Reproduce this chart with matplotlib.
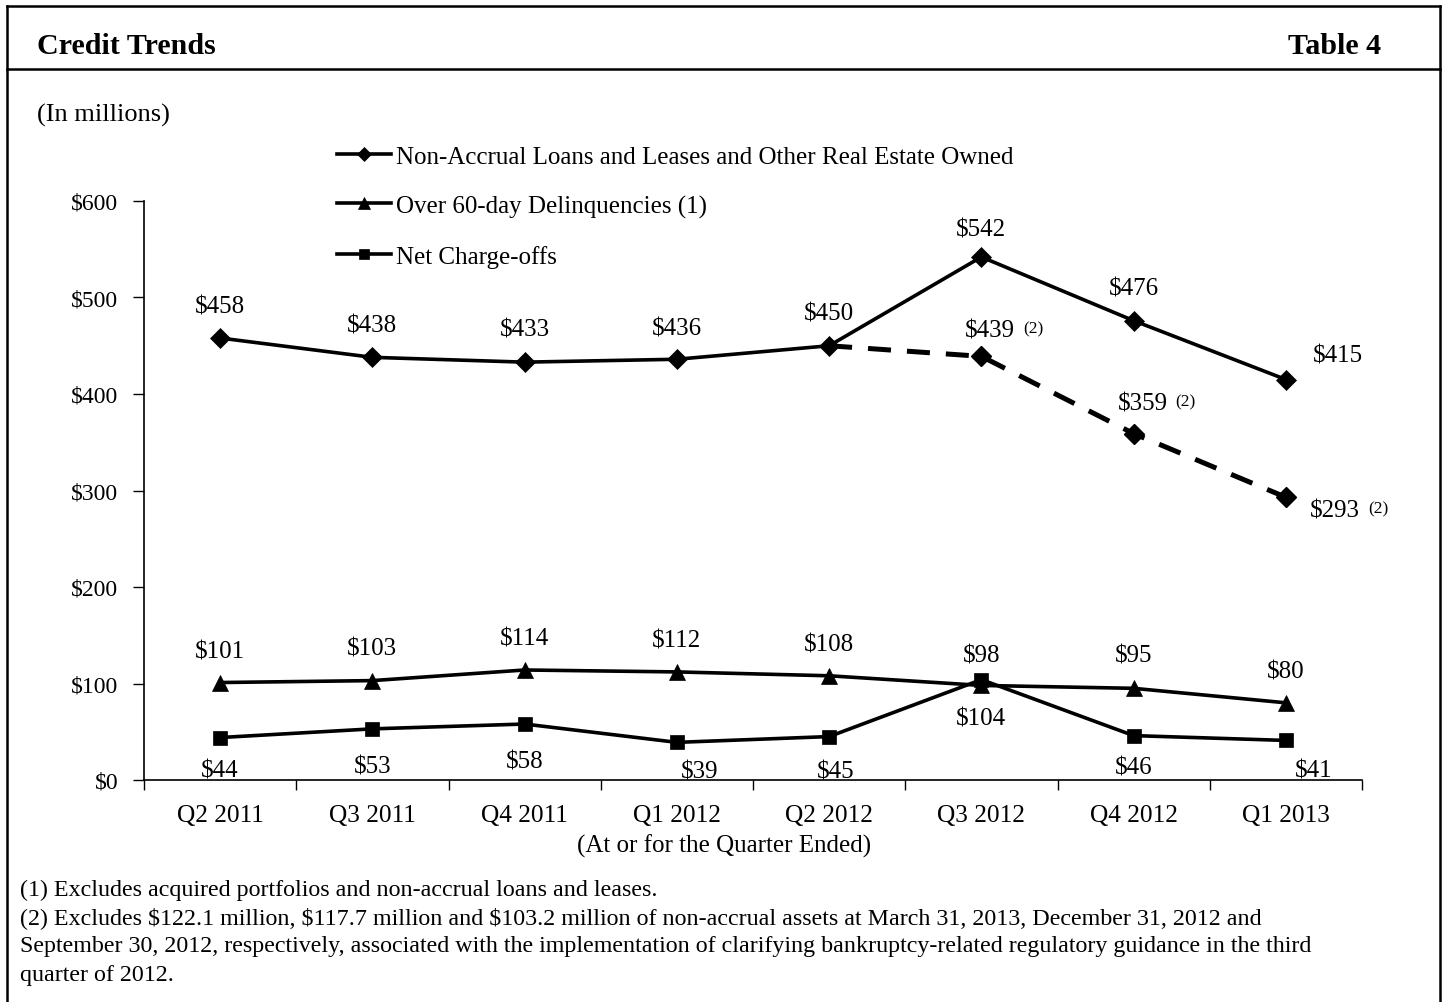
import numpy as np
import matplotlib
matplotlib.use("Agg")
import matplotlib.pyplot as plt
from matplotlib.lines import Line2D

plt.rcParams["font.family"] = ["Liberation Serif", "DejaVu Serif"]
plt.rcParams["text.parse_math"] = False

# ---- data (in millions) ----
quarters = ["Q2 2011", "Q3 2011", "Q4 2011", "Q1 2012",
            "Q2 2012", "Q3 2012", "Q4 2012", "Q1 2013"]
nonaccrual = [458, 438, 433, 436, 450, 542, 476, 415]
# non-accrual excluding bankruptcy-guidance assets, starting from Q2 2012
nonaccrual_excl_start = 4
nonaccrual_excl = [450, 439, 359, 293]
delinquencies = [101, 103, 114, 112, 108, 98, 95, 80]
net_chargeoffs = [44, 53, 58, 39, 45, 104, 46, 41]
y_ticks = [0, 100, 200, 300, 400, 500, 600]

series_names = ["Non-Accrual Loans and Leases and Other Real Estate Owned",
                "Over 60-day Delinquencies (1)",
                "Net Charge-offs"]

# label offsets in pixels (dx, dy) relative to each point
na_offsets = [(0, 35), (0, 35), (0, 36), (0, 34), (0, 35), (0, 30), (0, 35), (52, 27)]
excl_offsets = [None, (9, 29), (9, 33), (49, -10)]
dq_offsets = [(0, 34), (0, 35), (0, 34), (0, 34), (0, 34), (0, 33), (0, 36), (0, 34)]
nco_offsets = [(0, -30), (0, -35), (0, -34), (23, -26), (7, -32), (0, -36), (0, -29), (28, -27)]

PX = 0.72  # points per pixel at 100 dpi
FS = 18
TEXT_SHIFT = -3  # compensates for the descender space in centred text boxes

fig = plt.figure(figsize=(14.45, 10.03), dpi=100)
W, H = 1445, 1003


def fx(px):
    return px / W


def fy(py):
    return 1 - py / H


# outer frame and header rule
frame_kw = dict(color="black", lw=1.8, transform=fig.transFigure, clip_on=False)
fig.add_artist(Line2D([fx(7), fx(1440)], [fy(7), fy(7)], **frame_kw))
fig.add_artist(Line2D([fx(7), fx(7)], [fy(7), 0], **frame_kw))
fig.add_artist(Line2D([fx(1440), fx(1440)], [fy(7), 0], **frame_kw))
fig.add_artist(Line2D([fx(7), fx(1440)], [fy(70), fy(70)], **frame_kw))

fig.text(fx(37), fy(47), "Credit Trends", fontsize=21.6, fontweight="bold",
         ha="left", va="center")
fig.text(fx(1381), fy(47), "Table 4", fontsize=21.6, fontweight="bold",
         ha="right", va="center")
fig.text(fx(37), fy(115), "(In millions)", fontsize=19, ha="left", va="center")

ax = fig.add_axes([fx(144), fy(781), (1362 - 144) / W, (781 - 202) / H])
x = np.arange(len(quarters))

line_kw = dict(color="black", lw=2.6, markeredgecolor="black", mew=0.5)
l_na, = ax.plot(x, nonaccrual, marker="D", ms=10, zorder=4, **line_kw)
x_excl = x[nonaccrual_excl_start:]
ax.plot(x_excl, nonaccrual_excl, color="black", lw=3.6,
        ls=(0, (4.6, 3.2)), zorder=3)
ax.plot(x_excl[1:], nonaccrual_excl[1:], ls="none", marker="D", ms=10,
        color="black", zorder=5)
l_dq, = ax.plot(x, delinquencies, marker="^", ms=12, zorder=4, **line_kw)
l_nco, = ax.plot(x, net_chargeoffs, marker="s", ms=10.5, zorder=4, **line_kw)


def label(xi, yi, off, text, sup=None):
    dx, dy = off[0] * PX, (off[1] + TEXT_SHIFT) * PX
    ax.annotate(text, (xi, yi), xytext=(dx, dy),
                textcoords="offset points", ha="center", va="center",
                fontsize=FS)
    if sup:
        ax.annotate(sup, (xi, yi), xytext=(dx + 33 * PX, dy + 2 * PX),
                    textcoords="offset points", ha="left", va="center",
                    fontsize=12.5)


for xi, v, off in zip(x, nonaccrual, na_offsets):
    label(xi, v, off, f"${v}")
for xi, v, off in zip(x_excl[1:], nonaccrual_excl[1:], excl_offsets[1:]):
    label(xi, v, off, f"${v}", "(2)")
for xi, v, off in zip(x, delinquencies, dq_offsets):
    label(xi, v, off, f"${v}")
for xi, v, off in zip(x, net_chargeoffs, nco_offsets):
    label(xi, v, off, f"${v}")

ax.set_xlim(-0.5, len(quarters) - 0.5)
ax.set_ylim(0, 600)
ax.set_yticks(y_ticks)
ax.set_yticklabels([f"${v}" for v in y_ticks])
ax.set_xticks(np.arange(len(quarters) + 1) - 0.5)
ax.set_xticklabels([])
ax.set_xticks(x, minor=True)
ax.set_xticklabels(quarters, minor=True)
ax.tick_params(axis="x", which="major", direction="out", length=7, width=1)
ax.tick_params(axis="x", which="minor", length=0, pad=17, labelsize=18.3)
ax.tick_params(axis="y", direction="out", length=8, width=1, pad=10.4, labelsize=17)
for side in ("top", "right"):
    ax.spines[side].set_visible(False)
for side in ("left", "bottom"):
    ax.spines[side].set_linewidth(1.2)
ax.set_facecolor("none")

ax.legend([l_na, l_dq, l_nco], series_names, loc="upper left",
          bbox_to_anchor=(fx(337), fy(146)), bbox_transform=fig.transFigure,
          frameon=False, fontsize=FS, handlelength=2.16, handletextpad=0.2,
          labelspacing=1.08, borderpad=0, borderaxespad=0, markerscale=0.75)

fig.text(fx(724), fy(846), "(At or for the Quarter Ended)", fontsize=FS,
         ha="center", va="center")

notes = [
    "(1) Excludes acquired portfolios and non-accrual loans and leases.",
    "(2) Excludes $122.1 million, $117.7 million and $103.2 million of non-accrual assets at March 31, 2013, December 31, 2012 and",
    "September 30, 2012, respectively, associated with the implementation of clarifying bankruptcy-related regulatory guidance in the third",
    "quarter of 2012.",
]
for ny, note in zip([890, 918, 947, 976], notes):
    fig.text(fx(20), fy(ny), note, fontsize=17.3, ha="left", va="center")

fig.savefig("out.png", dpi=100)
